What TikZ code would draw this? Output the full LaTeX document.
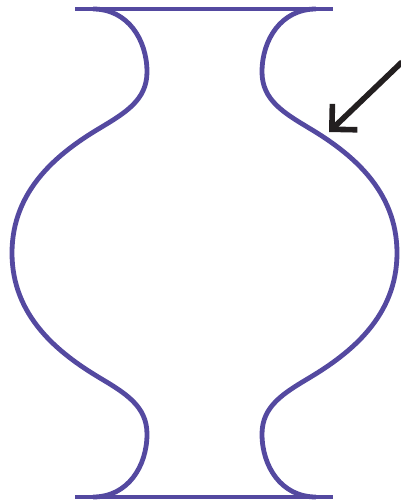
\documentclass[tikz,border=0pt]{standalone}
\usetikzlibrary{arrows.meta}
\definecolor{vasecol}{RGB}{84,73,160}
\definecolor{arrowcol}{RGB}{35,31,32}
\tikzset{
  vaseline/.style={draw=vasecol, line width=4.8pt, line cap=butt, line join=round},
  pointer/.style={draw=arrowcol, line width=5.6pt, line cap=butt,
    -{Straight Barb[sharp, length=18pt, width=36pt]}},
}
\newcommand\myvasehalf{%
  \path[vaseline] (93,9) .. controls (128,9) and (147,40) .. (147,72)
      .. controls (147,100) and (125,113) .. (100,128)
      .. controls (58,153) and (12,190) .. (12,253)
      .. controls (12,316) and (58,353) .. (100,378)
      .. controls (125,393) and (147,406) .. (147,434)
      .. controls (147,466) and (128,497) .. (93,497);}
\begin{document}
\begin{tikzpicture}[x=1pt,y=-1pt]
\useasboundingbox (0,0) rectangle (401,504);
% rim and foot
\coordinate (rimL) at (75,9);
\coordinate (rimR) at (333,9);
\coordinate (footL) at (75,497);
\coordinate (footR) at (333,497);
\draw[vaseline] (rimL) -- (rimR);
\draw[vaseline] (footL) -- (footR);
% profiles
\myvasehalf
\begin{scope}[xshift=409pt, xscale=-1]
\myvasehalf
\end{scope}
% pointer arrow
\coordinate (tail) at (402,62);
\coordinate (tip) at (329,132);
\draw[pointer] (tail) -- (tip);
\end{tikzpicture}
\end{document}
